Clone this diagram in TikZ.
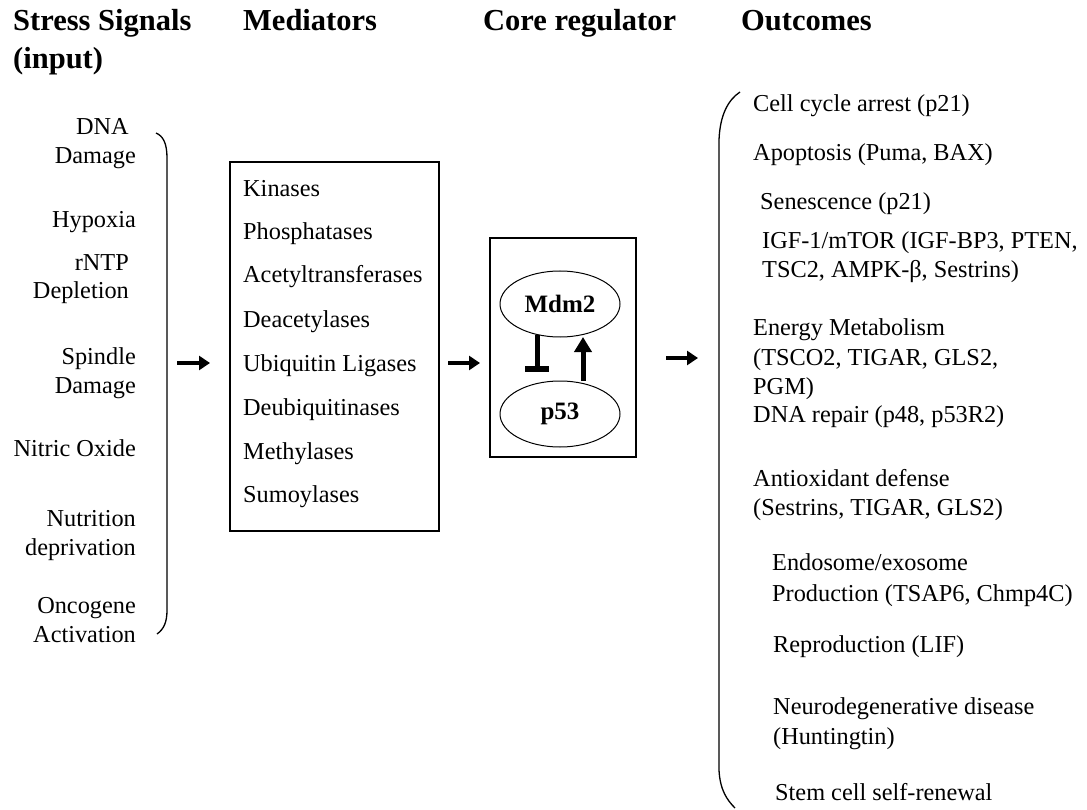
\documentclass[tikz,border=0pt]{standalone}
\usepackage{fontspec}
\setmainfont{Liberation Serif}
\usetikzlibrary{arrows.meta,shapes.geometric}
\begin{document}
\begin{tikzpicture}[x=1pt,y=-1pt,
  hdr/.style={anchor=base west,inner sep=0pt,font=\fontsize{30.5}{36}\selectfont\bfseries},
  lt/.style={anchor=base east,inner sep=0pt,font=\fontsize{24.3}{29}\selectfont},
  rt/.style={anchor=base west,inner sep=0pt,font=\fontsize{24.3}{29}\selectfont},
  arr/.style={line width=3.6pt,-{Triangle[length=11pt,width=14pt]}},
  oval/.style={draw,ellipse,line width=1pt,minimum width=120pt,minimum height=66pt,inner sep=0pt,font=\fontsize{25}{30}\selectfont\bfseries},
  box/.style={draw,line width=1.2pt}]
\useasboundingbox (0,0) rectangle (1087,810);
\fill[white] (0,0) rectangle (1087,810);
% headers
\node[hdr] (h1) at (13,31) {Stress Signals};
\node[hdr] (h1b) at (13,69) {(input)};
\node[hdr] (h2) at (243,31) {Mediators};
\node[hdr] (h3) at (483,31) {Core regulator};
\node[hdr] (h4) at (741,31) {Outcomes};
% left inputs
\node[lt] (l1) at (129,135) {DNA};
\node[lt] (l2) at (136,164) {Damage};
\node[lt] (l3) at (136,228) {Hypoxia};
\node[lt] (l4) at (129,271) {rNTP};
\node[lt] (l5) at (129,299) {Depletion};
\node[lt] (l6) at (136,364) {Spindle};
\node[lt] (l7) at (136,393) {Damage};
\node[lt] (l8) at (136,456) {Nitric Oxide};
\node[lt] (l9) at (136,526) {Nutrition};
\node[lt] (l10) at (136,555) {deprivation};
\node[lt] (l11) at (136,613) {Oncogene};
\node[lt] (l12) at (136,642) {Activation};
\draw[line width=1.3pt] (156,133) .. controls (163,136) and (167,143) .. (167,158) -- (167,610) .. controls (167,622) and (164,629) .. (157,634);
% mediators
\draw[box] (230,162) rectangle (439,531);
\node[rt] (m1) at (243,197) {Kinases};
\node[rt] (m2) at (243,240) {Phosphatases};
\node[rt] (m3) at (243,283) {Acetyltransferases};
\node[rt] (m4) at (243,327) {Deacetylases};
\node[rt] (m5) at (243,371) {Ubiquitin Ligases};
\node[rt] (m6) at (243,415) {Deubiquitinases};
\node[rt] (m7) at (243,459) {Methylases};
\node[rt] (m8) at (243,502) {Sumoylases};
\coordinate (a1s) at (177,363);
\coordinate (a1e) at (210,363);
\draw[arr] (a1s) -- (a1e);
\coordinate (a2s) at (448,363);
\coordinate (a2e) at (480,363);
\draw[arr] (a2s) -- (a2e);
% core
\draw[box] (490,238) rectangle (636,457);
\node[oval] (mdm) at (560,304) {Mdm2};
\node[oval] (p53) at (560,414) {p53};
\coordinate (inhS) at (537,335);
\coordinate (inhE) at (537,369);
\draw[line width=5pt] (inhS) -- (inhE);
\draw[line width=6pt] ([xshift=-12pt]inhE) -- ([xshift=12pt]inhE);
\coordinate (actS) at (583,381);
\coordinate (actE) at (583,337);
\draw[line width=5pt,-{Triangle[length=15pt,width=17pt]}] (actS) -- (actE);
\coordinate (a3s) at (666,358);
\coordinate (a3e) at (698,358);
\draw[arr] (a3s) -- (a3e);
% right brace
\draw[line width=1.3pt] (740,92) .. controls (728,100) and (720,115) .. (719,140) -- (719,770) .. controls (720,790) and (727,800) .. (735,808);
% outcomes
\node[rt] (o1) at (753,112) {Cell cycle arrest (p21)};
\node[rt] (o2) at (753,161) {Apoptosis (Puma, BAX)};
\node[rt] (o3) at (760,210) {Senescence (p21)};
\node[rt] (o4) at (762,249) {IGF-1/mTOR (IGF-BP3, PTEN,};
\node[rt] (o5) at (762,278) {TSC2, AMPK-β, Sestrins)};
\node[rt] (o6) at (753,336) {Energy Metabolism};
\node[rt] (o7) at (753,365) {(TSCO2, TIGAR, GLS2,};
\node[rt] (o8) at (753,394) {PGM)};
\node[rt] (o9) at (753,422) {DNA repair (p48, p53R2)};
\node[rt] (o10) at (753,486) {Antioxidant defense};
\node[rt] (o11) at (753,515) {(Sestrins, TIGAR, GLS2)};
\node[rt] (o12) at (772,570) {Endosome/exosome};
\node[rt] (o13) at (772,601) {Production (TSAP6, Chmp4C)};
\node[rt] (o14) at (773,652) {Reproduction (LIF)};
\node[rt] (o15) at (773,714) {Neurodegenerative disease};
\node[rt] (o16) at (773,744) {(Huntingtin)};
\node[rt] (o17) at (775,800) {Stem cell self-renewal};
\end{tikzpicture}
\end{document}
